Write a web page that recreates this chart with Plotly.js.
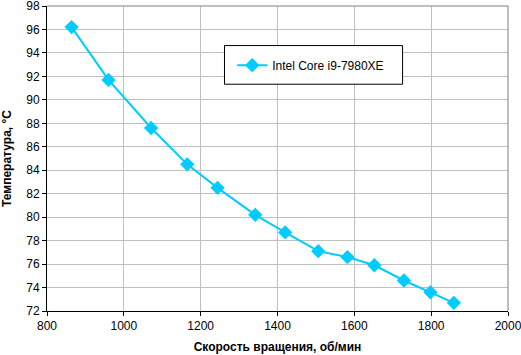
<!DOCTYPE html>
<html><head><meta charset="utf-8">
<script src="https://cdn.plot.ly/plotly-3.0.1.min.js"></script>
<style>body{margin:0;background:#fff}#c{width:521px;height:355px}</style>
</head><body><div id="c"></div>
<script>
const seriesName = "Intel Core i9-7980XE";
const rpm = [864, 960, 1071, 1165, 1244, 1342, 1420, 1506, 1582, 1652, 1729, 1798, 1859];
const temp = [96.2, 91.7, 87.6, 84.5, 82.5, 80.2, 78.7, 77.1, 76.6, 75.9, 74.6, 73.6, 72.7];
const xTicks = [800, 1000, 1200, 1400, 1600, 1800, 2000];
const yTicks = [72, 74, 76, 78, 80, 82, 84, 86, 88, 90, 92, 94, 96, 98];
const xTitle = "Скорость вращения, об/мин";
const yTitle = "Температура, °C";

const data = [{
  x: rpm, y: temp, type: "scatter", mode: "lines+markers", name: seriesName,
  line: {color: "#00CCFF", width: 2},
  marker: {symbol: "diamond", size: 11, color: "#00CCFF"}
}];
const layout = {
  width: 521, height: 355,
  margin: {l: 46.5, r: 12.7, t: 5.7, b: 44},
  paper_bgcolor: "#fff", plot_bgcolor: "#fff",
  font: {family: "Liberation Sans, Arial, sans-serif", size: 12, color: "#000"},
  showlegend: true,
  legend: {x: 0.4017, y: 0.806, xanchor: "left", yanchor: "middle", borderwidth: 0, bgcolor: "rgba(0,0,0,0)", font: {size: 12}},
  xaxis: {range: [800, 2000], tickvals: xTicks, ticktext: xTicks.map(String), showgrid: true, gridcolor: "#c0c0c0", gridwidth: 1,
    showline: true, linecolor: "#000", linewidth: 1, ticks: "outside", ticklen: 4, tickcolor: "#000", zeroline: false,
    ticklabeloverflow: "allow",
    title: {text: xTitle, font: {size: 12, weight: "bold"}, standoff: 10}},
  yaxis: {range: [72, 98], tickvals: yTicks, ticktext: yTicks.map(String), showgrid: true, gridcolor: "#c0c0c0", gridwidth: 1,
    showline: true, linecolor: "#000", linewidth: 1, ticks: "outside", ticklen: 4, tickcolor: "#000", zeroline: false,
    ticklabeloverflow: "allow",
    title: {text: yTitle, font: {size: 12, weight: "bold"}, standoff: 12}},
  shapes: [
    {type: "line", xref: "paper", yref: "paper", x0: 0, x1: 1, y0: 1, y1: 1, line: {color: "#808080", width: 1}},
    {type: "line", xref: "paper", yref: "paper", x0: 1, x1: 1, y0: 0, y1: 1, line: {color: "#808080", width: 1}},
    {type: "rect", xref: "paper", yref: "paper", x0: 0.385, x1: 0.7713, y0: 0.7435, y1: 0.8703, layer: "above",
     fillcolor: "#fff", line: {color: "#000", width: 1}}
  ]
};
Plotly.newPlot("c", data, layout, {displayModeBar: false, staticPlot: true});
</script></body></html>
